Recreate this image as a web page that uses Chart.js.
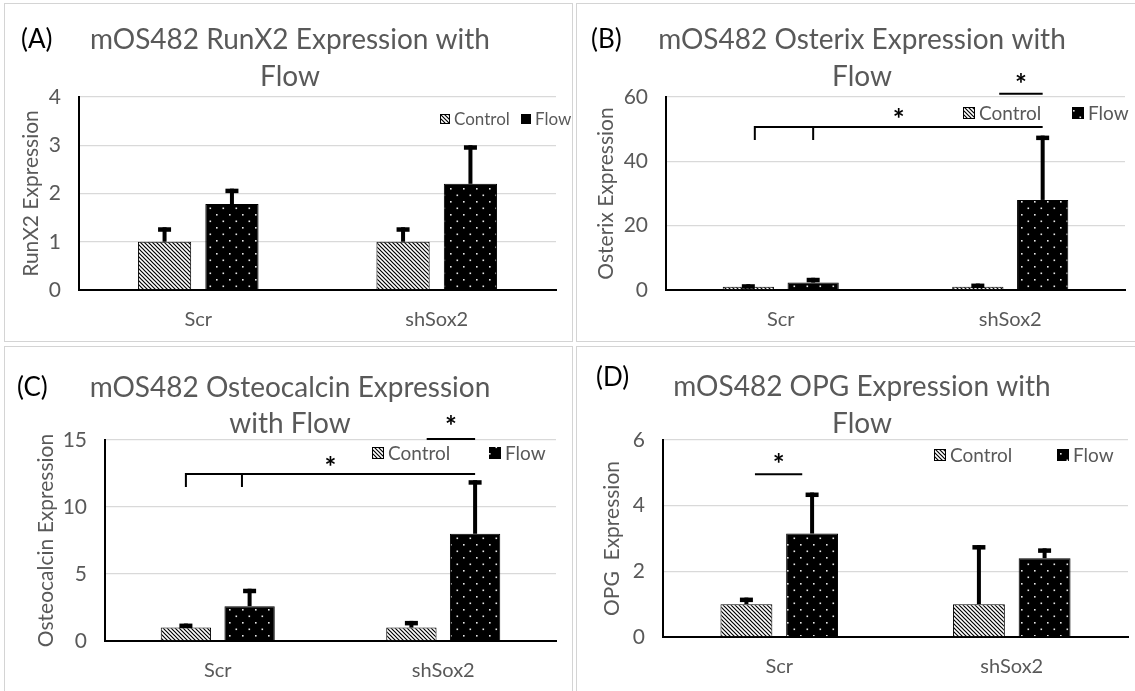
<!DOCTYPE html>
<html>
<head>
<meta charset="utf-8">
<script src="https://cdn.jsdelivr.net/npm/chart.js@4.4.0/dist/chart.umd.min.js"></script>
<style>
  body { margin: 0; background: #fff; width: 1135px; height: 691px; overflow: hidden; position: relative; }
  .frame { position: absolute; border: 1.5px solid #d4d4d4; box-sizing: border-box; }
  canvas { position: absolute; }
</style>
</head>
<body>
<div class="frame" style="left:4px;top:3px;width:569px;height:339px"></div>
<div class="frame" style="left:576px;top:3px;width:565px;height:339px"></div>
<div class="frame" style="left:4px;top:346px;width:569px;height:350px"></div>
<div class="frame" style="left:576px;top:346px;width:565px;height:350px"></div>
<canvas id="cA" width="566" height="337" style="left:6px;top:4px"></canvas>
<canvas id="cB" width="558" height="337" style="left:577px;top:4px"></canvas>
<canvas id="cC" width="566" height="342" style="left:6px;top:347px"></canvas>
<canvas id="cD" width="558" height="342" style="left:577px;top:347px"></canvas>
<script>
const categories = ['Scr', 'shSox2'];
const seriesNames = ['Control', 'Flow'];

// (A) RunX2
const runx2Control = [1, 1];
const runx2ControlErr = [0.3, 0.3];
const runx2Flow = [1.78, 2.2];
const runx2FlowErr = [0.32, 0.8];
const runx2Ticks = [0, 1, 2, 3, 4];

// (B) Osterix
const osxControl = [1, 1];
const osxControlErr = [0.8, 1.0];
const osxFlow = [2.3, 28];
const osxFlowErr = [1.5, 20];
const osxTicks = [0, 20, 40, 60];

// (C) Osteocalcin
const ocnControl = [1, 1];
const ocnControlErr = [0.3, 0.5];
const ocnFlow = [2.6, 8];
const ocnFlowErr = [1.3, 4];
const ocnTicks = [0, 5, 10, 15];

// (D) OPG
const opgControl = [1, 1];
const opgControlErr = [0.2, 1.8];
const opgFlow = [3.15, 2.4];
const opgFlowErr = [1.25, 0.3];
const opgTicks = [0, 2, 4, 6];

const FONT = 'Lato';
const GREY = '#595959';

function hatchPattern() {
  const c = document.createElement('canvas');
  c.width = 4; c.height = 4;
  const g = c.getContext('2d');
  g.fillStyle = '#fff'; g.fillRect(0, 0, 4, 4);
  g.strokeStyle = '#000'; g.lineWidth = 1.2;
  g.beginPath();
  g.moveTo(-1, -1); g.lineTo(5, 5);
  g.moveTo(-1, 3); g.lineTo(1, 5);
  g.moveTo(3, -1); g.lineTo(5, 1);
  g.stroke();
  return g.createPattern(c, 'repeat');
}

function dotPattern() {
  const c = document.createElement('canvas');
  c.width = 13; c.height = 13;
  const g = c.getContext('2d');
  g.fillStyle = '#000'; g.fillRect(0, 0, 13, 13);
  g.fillStyle = '#e8e8e8';
  g.fillRect(2, 2, 1.6, 1.6);
  g.fillRect(8.5, 8.5, 1.6, 1.6);
  return g.createPattern(c, 'repeat');
}

const hatch = hatchPattern();
const dots = dotPattern();

const panels = [
  {
    id: 'cA', w: 566, h: 337, area: { l: 73, r: 550, t: 93, b: 286 },
    label: '(A)', labelPos: [15, 36],
    title: ['mOS482 RunX2 Expression with', 'Flow'], titlePos: [284, 36, 73],
    yTitle: 'RunX2 Expression', yTitleX: 25,
    control: runx2Control, controlErr: runx2ControlErr, flow: runx2Flow, flowErr: runx2FlowErr, ticks: runx2Ticks,
    legend: { x: 434, y: 115, size: 17, box: 10, flowX: 515, solidFlow: true },
    sig: []
  },
  {
    id: 'cB', w: 558, h: 337, area: { l: 89, r: 548, t: 93, b: 286 },
    label: '(B)', labelPos: [14, 36],
    title: ['mOS482 Osterix Expression with', 'Flow'], titlePos: [285, 36, 73],
    yTitle: 'Osterix Expression', yTitleX: 29,
    control: osxControl, controlErr: osxControlErr, flow: osxFlow, flowErr: osxFlowErr, ticks: osxTicks,
    legend: { x: 386, y: 109, size: 19, box: 12, flowX: 495 },
    sig: [
      { from: { i: 1, f: 0.33 }, to: { i: 1, f: 1 }, y: 61, starY: 66 },
      { from: { i: 0, f: 0.1 }, to: { i: 1, f: 1 }, ticks: [{ i: 0, f: 0.1 }, { i: 0, f: 1 }], y: 50.7, tickTo: 46.6, starY: 55 }
    ]
  },
  {
    id: 'cC', w: 566, h: 342, area: { l: 99, r: 550, t: 93, b: 294 },
    label: '(C)', labelPos: [11, 41],
    title: ['mOS482 Osteocalcin Expression', 'with Flow'], titlePos: [284, 41, 77],
    yTitle: 'Osteocalcin Expression', yTitleX: 40,
    control: ocnControl, controlErr: ocnControlErr, flow: ocnFlow, flowErr: ocnFlowErr, ticks: ocnTicks,
    legend: { x: 366, y: 106, size: 19, box: 12, flowX: 483 },
    sig: [
      { from: { i: 1, f: 0.24 }, to: { i: 1, f: 1 }, y: 15.07, starY: 16.5 },
      { from: { i: 0, f: 0 }, to: { i: 1, f: 1 }, ticks: [{ i: 0, f: 0 }, { i: 0, f: 0.88 }], y: 12.46, tickTo: 11.5, starY: 13.4 }
    ]
  },
  {
    id: 'cD', w: 558, h: 342, area: { l: 86, r: 551, t: 93, b: 290 },
    label: '(D)', labelPos: [19, 31],
    title: ['mOS482 OPG Expression with', 'Flow'], titlePos: [285, 40, 77],
    yTitle: 'OPG  Expression', yTitleX: 35,
    control: opgControl, controlErr: opgControlErr, flow: opgFlow, flowErr: opgFlowErr, ticks: opgTicks,
    legend: { x: 357, y: 108, size: 19, box: 12, flowX: 480 },
    sig: [
      { from: { i: 0, f: 0.13 }, to: { i: 0, f: 0.85 }, y: 4.96, starY: 5.45 }
    ]
  }
];

function makeExtras(p) {
  return {
    id: 'extras',
    afterDatasetsDraw(chart) {
      const ctx = chart.ctx;
      const y = chart.scales.y;
      ctx.save();
      ctx.fillStyle = '#000';
      chart.data.datasets.forEach((ds, d) => {
        chart.getDatasetMeta(d).data.forEach((bar, i) => {
          const top = y.getPixelForValue(ds.data[i] + ds.err[i]);
          ctx.fillRect(bar.x - 2, top, 4, bar.y - top);
          ctx.fillRect(bar.x - 6.5, top, 13, 4.5);
        });
      });
      ctx.restore();
    },
    afterDraw(chart) {
      const ctx = chart.ctx;
      const y = chart.scales.y;
      ctx.save();
      // panel label and title
      ctx.textBaseline = 'middle';
      ctx.fillStyle = '#000';
      ctx.textAlign = 'left';
      ctx.font = `26px ${FONT}`;
      ctx.fillText(p.label, p.labelPos[0], p.labelPos[1]);
      ctx.fillStyle = GREY;
      ctx.textAlign = 'center';
      ctx.font = `28px ${FONT}`;
      ctx.fillText(p.title[0], p.titlePos[0], p.titlePos[1]);
      ctx.fillText(p.title[1], p.titlePos[0], p.titlePos[2]);

      // legend
      const lg = p.legend;
      ctx.textAlign = 'left';
      ctx.font = `${lg.size}px ${FONT}`;
      ctx.fillStyle = hatch;
      ctx.fillRect(lg.x, lg.y - lg.box / 2, lg.box, lg.box);
      ctx.strokeStyle = '#000'; ctx.lineWidth = 1;
      ctx.strokeRect(lg.x + 0.5, lg.y - lg.box / 2 + 0.5, lg.box - 1, lg.box - 1);
      ctx.fillStyle = lg.solidFlow ? '#000' : dots;
      ctx.fillRect(lg.flowX, lg.y - lg.box / 2, lg.box, lg.box);
      ctx.fillStyle = GREY;
      ctx.fillText(seriesNames[0], lg.x + lg.box + 4, lg.y + 1);
      ctx.fillText(seriesNames[1], lg.flowX + lg.box + 4, lg.y + 1);

      // significance marks
      const cx = (q) => {
        const a = chart.getDatasetMeta(0).data[q.i].x;
        const b = chart.getDatasetMeta(1).data[q.i].x;
        return a + (b - a) * q.f;
      };
      ctx.strokeStyle = '#000';
      ctx.lineWidth = 2;
      ctx.fillStyle = '#000';
      ctx.textAlign = 'center';
      ctx.textBaseline = 'alphabetic';
      ctx.font = `bold 28px ${FONT}`;
      p.sig.forEach(s => {
        const yy = y.getPixelForValue(s.y);
        const x0 = cx(s.from), x1 = cx(s.to);
        ctx.beginPath();
        ctx.moveTo(x0, yy); ctx.lineTo(x1, yy);
        (s.ticks || []).forEach(t => {
          const tx = cx(t);
          ctx.moveTo(tx, yy - 1); ctx.lineTo(tx, y.getPixelForValue(s.tickTo));
        });
        ctx.stroke();
        ctx.fillText('*', (x0 + x1) / 2, y.getPixelForValue(s.starY) + 16);
      });
      ctx.restore();
    }
  };
}

panels.forEach(p => {
  const ticks = p.ticks;
  new Chart(document.getElementById(p.id), {
    type: 'bar',
    data: {
      labels: categories,
      datasets: [
        { label: seriesNames[0], data: p.control, err: p.controlErr, backgroundColor: hatch,
          borderColor: '#000', borderWidth: 1, categoryPercentage: 0.565, barPercentage: 0.79 },
        { label: seriesNames[1], data: p.flow, err: p.flowErr, backgroundColor: dots,
          borderColor: '#000', borderWidth: 1, categoryPercentage: 0.565, barPercentage: 0.79 }
      ]
    },
    options: {
      responsive: false,
      animation: false,
      layout: { padding: { left: 0, top: p.area.t, right: p.w - p.area.r, bottom: p.h - p.area.b - 40 } },
      plugins: { legend: { display: false }, title: { display: false }, tooltip: { enabled: false } },
      scales: {
        x: {
          grid: { display: false, drawTicks: false },
          border: { color: '#000', width: 2 },
          ticks: { color: GREY, font: { family: FONT, size: 20 }, padding: 18 },
          afterFit: s => { s.height = 40; }
        },
        y: {
          min: ticks[0], max: ticks[ticks.length - 1],
          ticks: { stepSize: ticks[1] - ticks[0], color: GREY, font: { family: FONT, size: 21 }, padding: 18 },
          grid: { color: '#d9d9d9', lineWidth: 1.3, drawTicks: false },
          border: { color: '#000', width: 2 },
          title: { display: true, text: p.yTitle, color: GREY, font: { family: FONT, size: 21 },
                   padding: { top: p.yTitleX - 12.6, bottom: 0 } },
          afterFit: s => { s.width = p.area.l; }
        }
      }
    },
    plugins: [makeExtras(p)]
  });
});
</script>
</body>
</html>
